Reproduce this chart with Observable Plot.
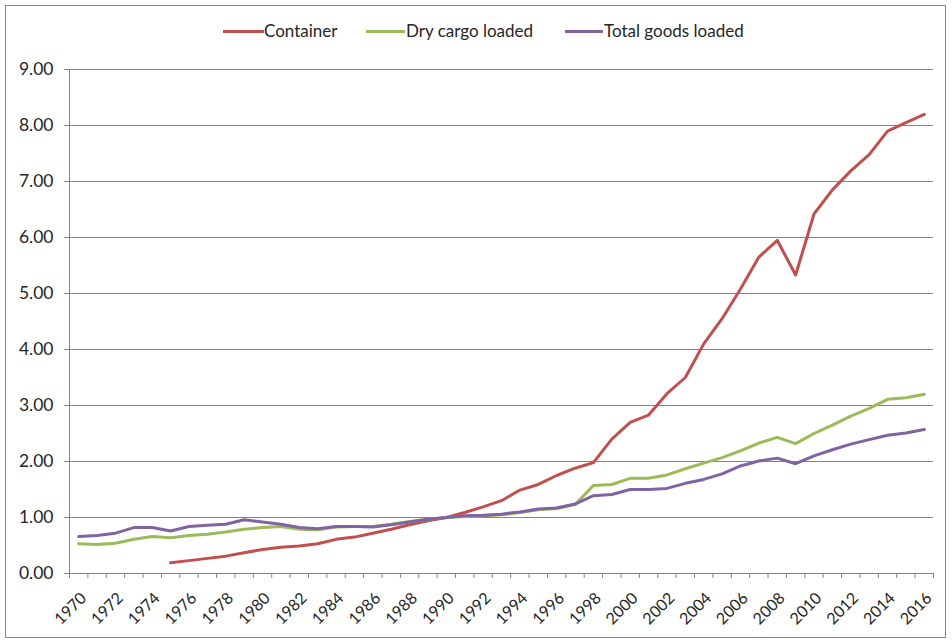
<!DOCTYPE html>
<html>
<head>
<meta charset="utf-8">
<script src="https://cdn.jsdelivr.net/npm/d3@7"></script>
<script src="https://cdn.jsdelivr.net/npm/@observablehq/plot@0.6"></script>
<style>
  html, body { margin: 0; padding: 0; background: #fff; }
  #wrap { position: relative; width: 952px; height: 640px; overflow: hidden; font-family: Lato, "Open Sans", sans-serif; }
  #frame { position: absolute; left: 5px; top: 5px; width: 941px; height: 633px; border: 1px solid #8a8a8a; box-sizing: border-box; }
  #legend { position: absolute; top: 20px; left: 0; width: 952px; height: 24px; font-size: 17px; color: #262626; }
  .sw { position: absolute; top: 10px; height: 3px; }
  .tx { position: absolute; top: 0; line-height: 22px; white-space: nowrap; }
  #chart { position: absolute; left: 0; top: 40px; }
</style>
</head>
<body>
<div id="wrap">
  <div id="frame"></div>
  <div id="legend"></div>
  <div id="chart"></div>
</div>
<script>
const years = d3.range(1970, 2017);
const seriesNames = ["Container", "Dry cargo loaded", "Total goods loaded"];
const seriesColors = ["#C0504D", "#9BBB59", "#8064A2"];

// Container index starts in 1975
const containerYears = d3.range(1975, 2017);
const container = [0.19, 0.23, 0.27, 0.31, 0.37, 0.43, 0.47, 0.49, 0.53, 0.61,
  0.65, 0.72, 0.79, 0.87, 0.94, 1.00, 1.09, 1.19, 1.30, 1.49,
  1.59, 1.75, 1.88, 1.98, 2.40, 2.70, 2.83, 3.21, 3.50, 4.10,
  4.55, 5.08, 5.65, 5.95, 5.33, 6.42, 6.85, 7.19, 7.48, 7.90,
  8.05, 8.20];
const dryCargo = [0.53, 0.52, 0.54, 0.61, 0.66, 0.64, 0.68, 0.70, 0.74, 0.79,
  0.82, 0.84, 0.79, 0.78, 0.83, 0.84, 0.84, 0.88, 0.93, 0.97,
  1.00, 1.02, 1.03, 1.05, 1.09, 1.14, 1.16, 1.23, 1.57, 1.59,
  1.70, 1.70, 1.76, 1.87, 1.97, 2.07, 2.19, 2.33, 2.43, 2.32,
  2.50, 2.65, 2.81, 2.95, 3.11, 3.14, 3.20];
const totalGoods = [0.66, 0.68, 0.72, 0.82, 0.82, 0.76, 0.84, 0.86, 0.88, 0.96,
  0.92, 0.88, 0.82, 0.80, 0.84, 0.84, 0.83, 0.87, 0.92, 0.97,
  1.00, 1.03, 1.04, 1.06, 1.10, 1.15, 1.17, 1.24, 1.39, 1.41,
  1.50, 1.50, 1.52, 1.61, 1.68, 1.78, 1.92, 2.01, 2.06, 1.96,
  2.10, 2.21, 2.31, 2.39, 2.47, 2.51, 2.57];
const yTicks = d3.range(0, 10);
const xLabelYears = years.filter(y => y % 2 === 0);
const xBoundaries = d3.range(1969.5, 2017, 1);

const data = [
  ...containerYears.map((y, i) => ({year: y, value: container[i], series: seriesNames[0]})),
  ...years.map((y, i) => ({year: y, value: dryCargo[i], series: seriesNames[1]})),
  ...years.map((y, i) => ({year: y, value: totalGoods[i], series: seriesNames[2]}))
];

const axisColor = "#868686";
const plot = Plot.plot({
  width: 952,
  height: 600,
  marginTop: 29,
  marginBottom: 67,
  marginLeft: 69,
  marginRight: 19,
  style: {fontFamily: "Lato, 'Open Sans', sans-serif", fontSize: "16px", color: "#262626", background: "transparent"},
  x: {domain: [1969.5, 2016.5]},
  y: {domain: [0, 9]},
  color: {domain: seriesNames, range: seriesColors},
  marks: [
    Plot.gridY(yTicks, {stroke: axisColor, strokeOpacity: 1, strokeWidth: 1}),
    Plot.ruleX([1969.5], {stroke: axisColor, strokeWidth: 1}),
    Plot.ruleY([0], {stroke: axisColor, strokeWidth: 1}),
    Plot.axisY({ticks: yTicks, tickFormat: d3.format(".2f"), tickSize: 5, tickPadding: 11, stroke: axisColor, label: null, fontSize: 17.5}),
    Plot.axisX({ticks: xBoundaries, tickFormat: () => "", tickSize: 5, stroke: axisColor, label: null}),
    Plot.axisX({ticks: xLabelYears, tickFormat: d => String(d), tickSize: 0, tickPadding: 22, dx: 5, tickRotate: -45, label: null, fontSize: 16}),
    Plot.line(data, {x: "year", y: "value", z: "series", stroke: "series", strokeWidth: 3, curve: "linear"})
  ]
});
document.getElementById("chart").appendChild(plot);

// legend layout (swatch left, swatch width, text left)
const legendPos = [[223, 41, 264], [366, 39, 406], [565, 38, 604]];
const legend = document.getElementById("legend");
seriesNames.forEach((name, i) => {
  const [sl, sw, tl] = legendPos[i];
  const s = document.createElement("div");
  s.className = "sw";
  s.style.left = sl + "px";
  s.style.width = sw + "px";
  s.style.background = seriesColors[i];
  const t = document.createElement("div");
  t.className = "tx";
  t.style.left = tl + "px";
  t.textContent = name;
  legend.appendChild(s);
  legend.appendChild(t);
});
</script>
</body>
</html>
